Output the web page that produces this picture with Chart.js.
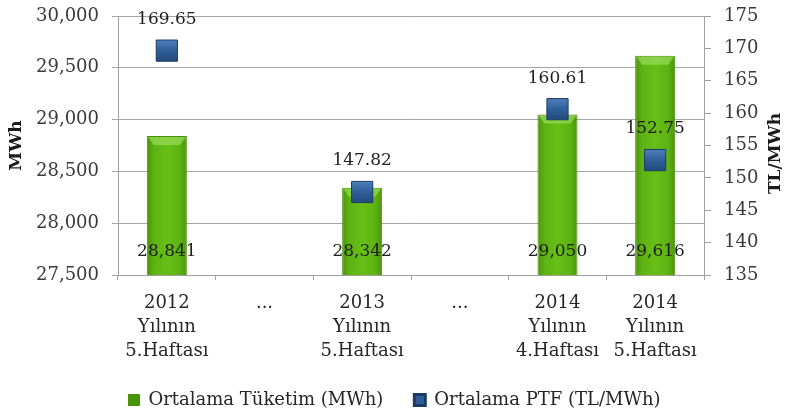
<!DOCTYPE html>
<html>
<head>
<meta charset="utf-8">
<script src="https://cdn.jsdelivr.net/npm/chart.js@4"></script>
<style>
  html, body { margin: 0; padding: 0; background: #fff; }
  #wrap { width: 789px; height: 419px; }
</style>
</head>
<body>
<div id="wrap"><canvas id="chart" width="789" height="419"></canvas></div>
<script>
const categories = [
  ['2012', 'Yılının', '5.Haftası'],
  ['...'],
  ['2013', 'Yılının', '5.Haftası'],
  ['...'],
  ['2014', 'Yılının', '4.Haftası'],
  ['2014', 'Yılının', '5.Haftası']
]
const consumption = [28841, null, 28342, null, 29050, 29616]
const ptf = [169.65, null, 147.82, null, 160.61, 152.75]
const leftTicks = { min: 27500, max: 30000, step: 500 }
const rightTicks = { min: 135, max: 175, step: 5 }

const serif = '"DejaVu Serif", serif'
const green = '#5cb314'
const blue = '#2f5f99'

function barFill(ctx) {
  const chart = ctx.chart
  const x = chart.scales.x
  if (ctx.dataIndex === undefined || !x) return green
  const cx = x.getPixelForValue(ctx.dataIndex)
  const w = x.width / categories.length * 0.41
  if (!Number.isFinite(cx) || !Number.isFinite(w) || w <= 0) return green
  const g = chart.ctx.createLinearGradient(cx - w / 2, 0, cx + w / 2, 0)
  g.addColorStop(0, '#4a940a')
  g.addColorStop(0.18, '#5db313')
  g.addColorStop(0.5, '#67bf16')
  g.addColorStop(0.82, '#5db313')
  g.addColorStop(1, '#4a940a')
  return g
}

function markerFill(ctx) {
  const chart = ctx.chart
  const y1 = chart.scales.y1
  if (ctx.dataIndex === undefined || !y1 || ctx.raw == null) return blue
  const cy = y1.getPixelForValue(ctx.raw)
  if (!Number.isFinite(cy)) return blue
  const g = chart.ctx.createLinearGradient(0, cy - 11, 0, cy + 11)
  g.addColorStop(0, '#4f80bd')
  g.addColorStop(0.5, '#2f5f99')
  g.addColorStop(1, '#22497a')
  return g
}

// light bevel on top of each bar
const barBevel = {
  id: 'barBevel',
  afterDatasetDraw(chart, args) {
    if (args.index !== 0) return
    const c = chart.ctx
    c.save()
    args.meta.data.forEach((el, i) => {
      if (consumption[i] == null) return
      const l = el.x - el.width / 2 + 1, r = el.x + el.width / 2 - 1, t = el.y + 1
      c.beginPath()
      c.moveTo(l, t)
      c.lineTo(r, t)
      c.lineTo(r - 6, t + 8)
      c.lineTo(l + 6, t + 8)
      c.closePath()
      c.fillStyle = 'rgba(170, 230, 110, 0.55)'
      c.fill()
    })
    c.restore()
  }
}

// value labels on bars and markers
const valueLabels = {
  id: 'valueLabels',
  afterDatasetsDraw(chart) {
    const c = chart.ctx
    c.save()
    c.font = '17px ' + serif
    c.fillStyle = '#1e1e1e'
    c.textAlign = 'center'
    c.textBaseline = 'middle'
    chart.getDatasetMeta(0).data.forEach((el, i) => {
      if (consumption[i] == null) return
      c.fillText(consumption[i].toLocaleString('en-US'), el.x, chart.chartArea.bottom - 23)
    })
    chart.getDatasetMeta(1).data.forEach((el, i) => {
      if (ptf[i] == null) return
      c.fillText(ptf[i].toFixed(2), el.x, el.y - 31)
    })
    c.restore()
  }
}

// axis titles, both reading bottom to top
const axisTitles = {
  id: 'axisTitles',
  afterDraw(chart) {
    const c = chart.ctx
    const mid = (chart.chartArea.top + chart.chartArea.bottom) / 2
    c.save()
    c.font = 'bold 17px ' + serif
    c.fillStyle = '#1a1a1a'
    c.textAlign = 'center'
    c.textBaseline = 'middle'
    c.translate(17, mid)
    c.rotate(-Math.PI / 2)
    c.fillText('MWh', 0, 0)
    c.restore()
    c.save()
    c.font = 'bold 17px ' + serif
    c.fillStyle = '#1a1a1a'
    c.textAlign = 'center'
    c.textBaseline = 'middle'
    c.translate(776, mid + 8)
    c.rotate(-Math.PI / 2)
    c.fillText('TL/MWh', 0, 0)
    c.restore()
  }
}

function fitY(width) {
  return (s) => {
    s.width = width
    s.paddingTop = 0
    s.paddingBottom = 0
  }
}

new Chart(document.getElementById('chart'), {
  type: 'bar',
  data: {
    labels: categories,
    datasets: [
      {
        label: 'Ortalama Tüketim (MWh)',
        data: consumption,
        yAxisID: 'y',
        order: 1,
        backgroundColor: barFill,
        borderColor: '#47900b',
        borderWidth: 1,
        barPercentage: 0.41,
        categoryPercentage: 1
      },
      {
        type: 'line',
        label: 'Ortalama PTF (TL/MWh)',
        data: ptf,
        yAxisID: 'y1',
        order: 0,
        showLine: false,
        backgroundColor: blue,
        borderColor: '#1c3c66',
        pointStyle: 'rect',
        pointRadius: 15,
        pointBackgroundColor: markerFill,
        pointBorderColor: '#1c3c66',
        pointBorderWidth: 1
      }
    ]
  },
  options: {
    responsive: false,
    animation: false,
    layout: { padding: { top: 11, bottom: 0, left: 0, right: 0 } },
    plugins: {
      tooltip: { enabled: false },
      legend: {
        position: 'bottom',
        labels: {
          boxWidth: 11,
          boxHeight: 11,
          padding: 31,
          color: '#262626',
          font: { family: serif, size: 18 },
          sort: (a, b) => a.datasetIndex - b.datasetIndex
        }
      }
    },
    scales: {
      x: {
        afterFit: (s) => { s.height = 85 },
        border: { color: '#a0a0a0' },
        grid: { drawOnChartArea: false, tickLength: 5, color: '#a0a0a0' },
        ticks: {
          color: '#262626',
          padding: 11,
          autoSkip: false,
          maxRotation: 0,
          font: { family: serif, size: 18, lineHeight: 1.33 }
        }
      },
      y: {
        position: 'left',
        min: leftTicks.min,
        max: leftTicks.max,
        afterFit: fitY(118),
        border: { color: '#a0a0a0' },
        grid: { color: '#a6a6a6', tickLength: 6 },
        ticks: {
          stepSize: leftTicks.step,
          color: '#3a3a3a',
          padding: 13,
          font: { family: serif, size: 18 },
          callback: (v) => v.toLocaleString('en-US')
        }
      },
      y1: {
        position: 'right',
        min: rightTicks.min,
        max: rightTicks.max,
        afterFit: fitY(85),
        border: { color: '#a0a0a0' },
        grid: { drawOnChartArea: false, tickLength: 7, color: '#a0a0a0' },
        ticks: {
          stepSize: rightTicks.step,
          color: '#3a3a3a',
          padding: 13,
          font: { family: serif, size: 18 }
        }
      }
    }
  },
  plugins: [barBevel, valueLabels, axisTitles]
})
</script>
</body>
</html>
